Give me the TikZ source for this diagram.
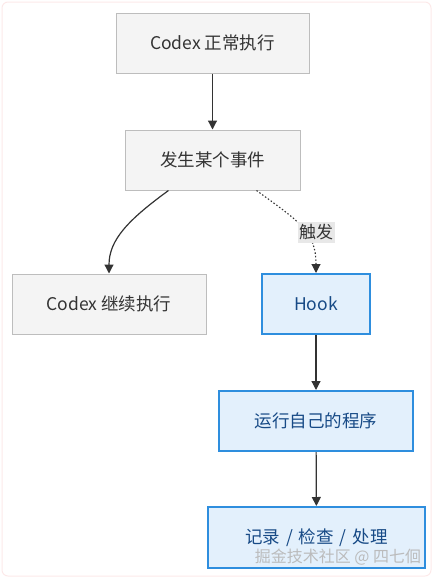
\documentclass[tikz,border=0pt]{standalone}
\usepackage{fontspec}
\setmainfont{Noto Sans CJK SC}
\usetikzlibrary{arrows.meta}
\definecolor{greyfill}{HTML}{F4F4F4}
\definecolor{greyline}{HTML}{BDBDBD}
\definecolor{bluefill}{HTML}{E3F0FC}
\definecolor{blueline}{HTML}{2E8EDE}
\definecolor{bluetext}{HTML}{174A86}
\definecolor{darktext}{HTML}{333333}
\definecolor{edge}{HTML}{333333}
\definecolor{labelbg}{HTML}{E8E8E8}
\definecolor{frame}{HTML}{FCE9E9}
\tikzset{
  greybox/.style={draw=greyline, line width=1pt, fill=greyfill, text=darktext, minimum height=60pt, inner sep=0pt, font=\fontsize{17.5}{20}\selectfont},
  bluebox/.style={draw=blueline, line width=2pt, fill=bluefill, text=bluetext, minimum height=60pt, inner sep=0pt, font=\fontsize{17.5}{20}\selectfont},
  flow/.style={draw=edge, line width=1.2pt, -{Triangle[length=9pt,width=9pt]}},
  trig/.style={draw=edge, line width=1.1pt, dash pattern=on 1.5pt off 2pt, -{Triangle[length=9pt,width=9pt]}},
  lbl/.style={fill=labelbg, text=darktext, inner xsep=1.5pt, inner ysep=3pt, font=\fontsize{17}{19}\selectfont},
}
\begin{document}
\begin{tikzpicture}[x=1pt,y=-1pt]
\useasboundingbox (0,0) rectangle (437,581);
\draw[frame, line width=1pt, rounded corners=6pt] (2,2) rectangle (431,576);
\node[greybox, minimum width=193pt] (A) at (212.5,43) {Codex 正常执行};
\node[greybox, minimum width=175pt] (B) at (212.5,160) {发生某个事件};
\node[greybox, minimum width=194pt] (C) at (109,304) {Codex 继续执行};
\node[bluebox, minimum width=108pt] (D) at (316,304) {Hook};
\node[bluebox, minimum width=194pt] (E) at (316,421) {运行自己的程序};
\node[bluebox, minimum width=217pt, minimum height=61pt] (F) at (316.5,537.5) {记录\hspace{6pt}/\hspace{6pt}检查\hspace{6pt}/\hspace{6pt}处理};
\draw[flow] (A) -- (B);
\draw[flow] ([xshift=-44pt]B.south) .. controls (128,220) and (109,240) .. (C.north);
\draw[trig] ([xshift=44pt]B.south) .. controls (300,222) and (316,232) .. (D.north);
\node[lbl] (L) at (316,232.5) {触发};
\draw[flow] (D) -- (E);
\draw[flow] (E) -- (F);
\node[font=\fontsize{16}{18}\selectfont, text=gray!55, opacity=0.95] (W) at (338,557) {掘金技术社区 @ 四七佪};
\end{tikzpicture}
\end{document}
